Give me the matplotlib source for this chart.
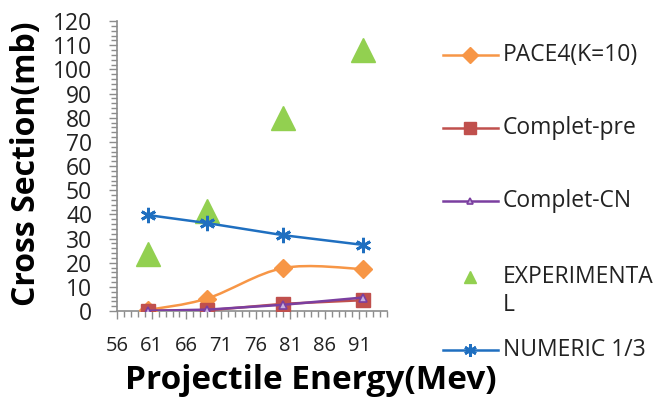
import matplotlib.pyplot as plt
import numpy as np
from matplotlib.lines import Line2D
from matplotlib.patches import PathPatch
from matplotlib.path import Path
from matplotlib.ticker import MultipleLocator

plt.rcParams['font.family'] = ['Open Sans', 'DejaVu Sans']

# projectile energies (MeV) and cross sections (mb)
energy = [60.5, 69, 80, 91.5]
pace4 = [0.5, 5.2, 17.8, 17.4]
complet_pre = [0.2, 0.3, 3.0, 4.5]
complet_cn = [0.1, 0.6, 2.6, 5.6]
experimental = [23.5, 41.5, 80, 108]
numeric = [39.7, 36.4, 31.4, 27.4]

x_ticks = [56, 61, 66, 71, 76, 81, 86, 91]

ORANGE = '#F79646'
RED = '#C0504D'
PURPLE = '#7B3FA0'
GREEN = '#92D050'
BLUE = '#1F6FC0'


def smooth_path(xs, ys):
    """Catmull-Rom style bezier through the points, like a smoothed spreadsheet line."""
    pts = np.column_stack([xs, ys]).astype(float)
    padded = np.vstack([pts[0], pts, pts[-1]])
    verts = [pts[0]]
    codes = [Path.MOVETO]
    for i in range(len(pts) - 1):
        p0, p1, p2, p3 = padded[i], padded[i + 1], padded[i + 2], padded[i + 3]
        c1 = p1 + (p2 - p0) / 6.0
        c2 = p2 - (p3 - p1) / 6.0
        verts += [c1, c2, p2]
        codes += [Path.CURVE4] * 3
    return Path(verts, codes)


fig = plt.figure(figsize=(6.66, 4.04), dpi=100)
ax = fig.add_axes([0.176, 0.230, 0.405, 0.718])

# smoothed PACE4 curve plus its markers
ax.add_patch(PathPatch(smooth_path(energy, pace4), facecolor='none',
                       edgecolor=ORANGE, lw=1.8, zorder=3))
ax.plot(energy, pace4, ls='none', marker='D', ms=9, color=ORANGE, zorder=4)

ax.plot(energy, complet_pre, color=RED, lw=1.8, marker='s', ms=10, zorder=4)
ax.plot(energy, complet_cn, color=PURPLE, lw=1.8, marker='^', ms=6,
        mfc='#C8B0E0', mec=PURPLE, mew=1.2, zorder=5)
ax.plot(energy, experimental, ls='none', marker='^', ms=17, color=GREEN, zorder=4)
ax.plot(energy, numeric, color=BLUE, lw=1.8, marker=(6, 2, 0), ms=11, mew=2,
        zorder=4)

ax.set_xlim(56, 95)
ax.set_ylim(0, 120)
ax.set_xticks(x_ticks)
ax.xaxis.set_minor_locator(MultipleLocator(1))
ax.yaxis.set_major_locator(MultipleLocator(10))
ax.yaxis.set_minor_locator(MultipleLocator(2))

for side in ['top', 'right']:
    ax.spines[side].set_visible(False)
for side in ['left', 'bottom']:
    ax.spines[side].set_color('#8C8C8C')
    ax.spines[side].set_linewidth(1.2)

ax.tick_params(axis='both', which='both', color='#8C8C8C', width=1.0)
ax.tick_params(axis='y', which='major', length=6, pad=12, labelsize=16.5,
               labelcolor='#222222')
ax.tick_params(axis='y', which='minor', length=4)
ax.tick_params(axis='x', which='major', length=6, pad=12, labelsize=14.5,
               labelcolor='#222222')
ax.tick_params(axis='x', which='minor', length=4)

fig.text(0.040, 0.595, 'Cross Section(mb)', rotation=90, ha='center',
         va='center', fontsize=23, fontweight='bold')
fig.text(0.467, 0.058, 'Projectile Energy(Mev)', ha='center', va='center',
         fontsize=24, fontweight='bold')

# legend drawn in figure coordinates
legend_rows = [
    ('PACE4(K=10)', dict(color=ORANGE, marker='D', ms=8), 55),
    ('Complet-pre', dict(color=RED, marker='s', ms=9), 128),
    ('Complet-CN', dict(color=PURPLE, marker='^', ms=5, mfc='#C8B0E0',
                        mec=PURPLE, mew=1.2), 201),
    ('EXPERIMENTA\nL', dict(color=GREEN, marker='^', ms=9, ls='none'), 277),
    ('NUMERIC 1/3', dict(color=BLUE, marker=(6, 2, 0), ms=9, mew=2), 350),
]
W, H = 666.0, 404.0
for label, style, ypix in legend_rows:
    yf = 1 - ypix / H
    line_style = dict(lw=1.8)
    line_style.update(style)
    if line_style.get('ls') == 'none':
        handle = Line2D([470 / W], [yf], transform=fig.transFigure, **line_style)
    else:
        handle = Line2D([443 / W, 470 / W, 498 / W], [yf, yf, yf],
                        markevery=[1], transform=fig.transFigure, **line_style)
    fig.add_artist(handle)
    fig.text(503 / W, yf, label.split('\n')[0], ha='left', va='center',
             fontsize=16.5, color='#222222')
    if '\n' in label:
        fig.text(503 / W, yf - 28 / H, label.split('\n')[1], ha='left',
                 va='center', fontsize=16.5, color='#222222')

fig.savefig('out.png', dpi=100, facecolor='white')
